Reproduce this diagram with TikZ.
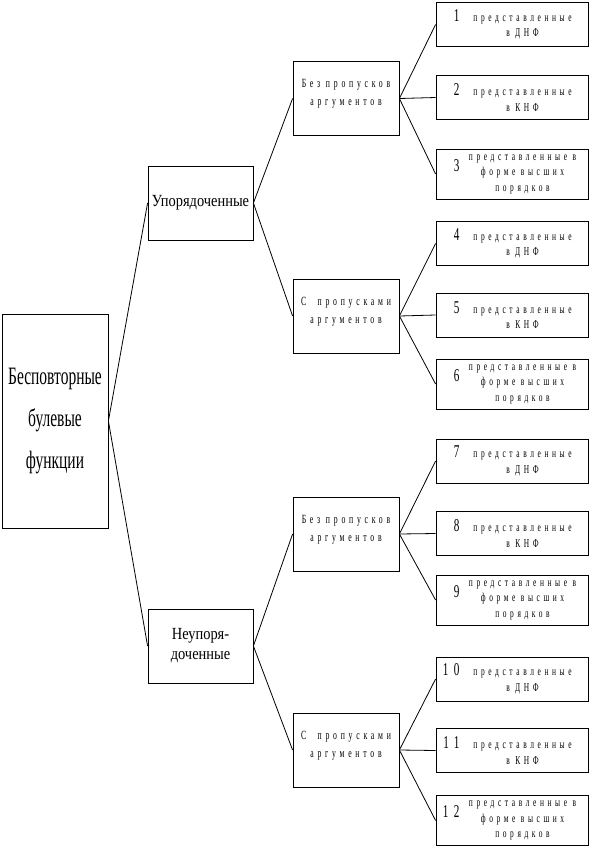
\documentclass[tikz,border=0pt]{standalone}
\usepackage{fontspec}
\setmainfont{Liberation Serif}
\newfontfamily\narrowfont[FakeStretch=0.62]{Liberation Serif}
\newfontfamily\midfont[FakeStretch=0.85]{Liberation Serif}
\newfontfamily\spacedfont[FakeStretch=0.62,LetterSpace=30]{Liberation Serif}
\newcommand{\numfont}{\fontsize{18}{18}\selectfont}
\newcommand{\leafcell}[3][t]{\makebox[16pt][r]{\numfont #2}\hspace{5pt}\parbox[#1]{116pt}{\centering #3}\hspace{15pt}}

\begin{document}
\begin{tikzpicture}[
        x=1pt, y=-1pt,
        line width=0.8pt,
        rootblock/.style={
            draw,
            minimum width=106pt,
            minimum height=214pt,
            align=center,
            font=\narrowfont\fontsize{25}{42}\selectfont
        },
        groupblock/.style={
            draw,
            minimum width=105pt,
            minimum height=74pt,
            inner sep=0pt,
            align=center,
            font=\midfont\fontsize{17}{20}\selectfont
        },
        subblock/.style={
            draw,
            minimum width=106pt,
            minimum height=74pt,
            inner sep=0pt,
            align=center,
            font=\spacedfont\fontsize{12.5}{18}\selectfont
        },
        leafblock/.style={
            draw,
            minimum width=152pt,
            minimum height=44pt,
            inner sep=0pt,
            font=\spacedfont\fontsize{12}{15.5}\selectfont
        },
        tallleaf/.style={
            leafblock,
            minimum height=50pt
        }
    ]

    \useasboundingbox (0,0) rectangle (590,847);

    \node[rootblock] (root) at (55,421) {Бесповторные\\булевые\\функции};

    \node[groupblock] (ordered)   at (200.5,203) {Упорядоченные};
    \node[groupblock] (unordered) at (200.5,646) {Неупоря-\\доченные};

    \node[subblock] (ordfull)   at (346,98.5) {Без пропусков\\аргументов\\[-6pt]};
    \node[subblock] (ordgap)    at (346,316)  {С\ \ пропусками\\аргументов\\[-6pt]};
    \node[subblock] (unordfull) at (346,534)  {Без пропусков\\аргументов\\[-6pt]};
    \node[subblock] (unordgap)  at (346,750)  {С\ \ пропусками\\аргументов\\[-6pt]};

    % leaves of the ordered branch
    \node[leafblock] (l1) at (512,24.5)  {\leafcell{1}{представленные\\в ДНФ}};
    \node[leafblock] (l2) at (512,97.5)  {\leafcell{2}{представленные\\в КНФ}};
    \node[tallleaf]  (l3) at (512,174)   {\leafcell[c]{\raisebox{6pt}{3}}{представленные в\\форме высших\\порядков}};
    \node[leafblock] (l4) at (512,243.5) {\leafcell{4}{представленные\\в ДНФ}};
    \node[leafblock] (l5) at (512,315)   {\leafcell{5}{представленные\\в КНФ}};
    \node[tallleaf]  (l6) at (512,384)   {\leafcell[c]{\raisebox{6pt}{6}}{представленные в\\форме высших\\порядков}};

    % leaves of the unordered branch
    \node[leafblock] (l7)  at (512,461)   {\leafcell{7}{представленные\\в ДНФ}};
    \node[leafblock] (l8)  at (512,533.5) {\leafcell{8}{представленные\\в КНФ}};
    \node[tallleaf]  (l9)  at (512,600)   {\leafcell[c]{\raisebox{6pt}{9}}{представленные в\\форме высших\\порядков}};
    \node[leafblock] (l10) at (512,679)   {\leafcell{10}{представленные\\в ДНФ}};
    \node[leafblock] (l11) at (512,750.5) {\leafcell{11}{представленные\\в КНФ}};
    \node[tallleaf]  (l12) at (512,820.5) {\leafcell[c]{\raisebox{6pt}{12}}{представленные в\\форме высших\\порядков}};

    \draw (root.east) -- (ordered.west);
    \draw (root.east) -- (unordered.west);

    \draw (ordered.east)   -- (ordfull.west);
    \draw (ordered.east)   -- (ordgap.west);
    \draw (unordered.east) -- (unordfull.west);
    \draw (unordered.east) -- (unordgap.west);

    \draw (ordfull.east)   -- (l1.west);
    \draw (ordfull.east)   -- (l2.west);
    \draw (ordfull.east)   -- (l3.west);
    \draw (ordgap.east)    -- (l4.west);
    \draw (ordgap.east)    -- (l5.west);
    \draw (ordgap.east)    -- (l6.west);
    \draw (unordfull.east) -- (l7.west);
    \draw (unordfull.east) -- (l8.west);
    \draw (unordfull.east) -- (l9.west);
    \draw (unordgap.east)  -- (l10.west);
    \draw (unordgap.east)  -- (l11.west);
    \draw (unordgap.east)  -- (l12.west);

\end{tikzpicture}
\end{document}
